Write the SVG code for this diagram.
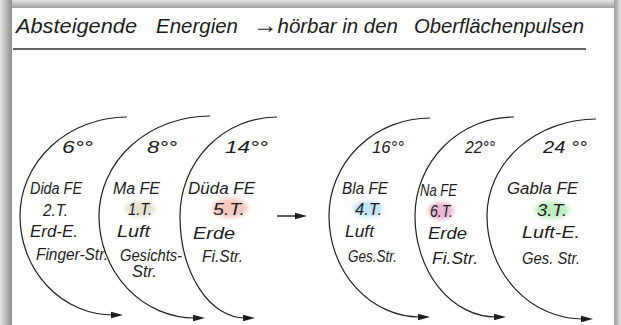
<svg xmlns="http://www.w3.org/2000/svg" width="621" height="325" viewBox="0 0 621 325">
<defs>
<linearGradient id="gl" x1="0" y1="0" x2="1" y2="0"><stop offset="0" stop-color="#e4e4e4"/><stop offset="1" stop-color="#8e8e8e"/></linearGradient>
<linearGradient id="gr" x1="0" y1="0" x2="1" y2="0"><stop offset="0" stop-color="#9a9a9a"/><stop offset="1" stop-color="#e4e4e4"/></linearGradient>
<linearGradient id="gt" x1="0" y1="0" x2="0" y2="1"><stop offset="0" stop-color="#e4e4e4"/><stop offset="1" stop-color="#a0a0a0"/></linearGradient>
<filter id="soft" x="-50%" y="-50%" width="200%" height="200%"><feGaussianBlur stdDeviation="2"/></filter>
<marker id="ah" markerUnits="userSpaceOnUse" markerWidth="14" markerHeight="8" refX="2" refY="4" orient="auto"><path d="M0,0.8 L12,4 L0,7.2 z" fill="#1e1e1e"/></marker>
<style>
.t{font-family:"Liberation Sans","DejaVu Sans",sans-serif;font-style:italic;fill:#1c1c1c;font-size:16px}
.tm{font-size:17px}
.h{font-size:20px}
.arc{fill:none;stroke:#222;stroke-width:1.2;marker-end:url(#ah)}
.hl{filter:url(#soft);opacity:0.75}
</style>
</defs>
<rect x="0" y="0" width="621" height="325" fill="#d6d6d6"/>
<rect x="0" y="0" width="621" height="8" fill="url(#gt)"/>
<rect x="0" y="0" width="12" height="325" fill="url(#gl)"/>
<rect x="614" y="0" width="7" height="325" fill="url(#gr)"/>
<rect x="12" y="8" width="602" height="317" fill="#ffffff"/>

<g id="title">
<text class="t h" x="16" y="33" textLength="121" lengthAdjust="spacingAndGlyphs">Absteigende</text>
<text class="t h" x="156" y="33" textLength="82" lengthAdjust="spacingAndGlyphs">Energien</text>
<text class="t h" x="253" y="33" textLength="145" lengthAdjust="spacingAndGlyphs"><tspan font-size="24">→</tspan>hörbar in den</text>
<text class="t h" x="414" y="33" textLength="170" lengthAdjust="spacingAndGlyphs">Oberflächenpulsen</text>
<line x1="13" y1="49" x2="586" y2="49" stroke="#333" stroke-width="1.5"/>
</g>

<g id="node-6">
<path class="arc" d="M127,117 A107,99 0 0 0 20,216 A93,99 0 0 0 113,315"/>
<text class="t tm" x="62" y="153" textLength="31" lengthAdjust="spacingAndGlyphs">6°°</text>
<text class="t" x="30" y="194" textLength="52" lengthAdjust="spacingAndGlyphs">Dida FE</text>
<text class="t" x="43" y="216" textLength="25" lengthAdjust="spacingAndGlyphs">2.T.</text>
<text class="t" x="30" y="237" textLength="48" lengthAdjust="spacingAndGlyphs">Erd-E.</text>
<text class="t" x="36" y="260" textLength="72" lengthAdjust="spacingAndGlyphs">Finger-Str.</text>
</g>

<g id="node-8">
<path class="arc" d="M210,116 A111,100 0 0 0 99,216 A96,102 0 0 0 195,318"/>
<ellipse class="hl" cx="140" cy="209" rx="15" ry="8" fill="#ddd5bd"/>
<text class="t tm" x="147" y="153" textLength="30" lengthAdjust="spacingAndGlyphs">8°°</text>
<text class="t" x="113" y="194" textLength="47" lengthAdjust="spacingAndGlyphs">Ma FE</text>
<text class="t" x="128" y="215" textLength="24" lengthAdjust="spacingAndGlyphs">1.T.</text>
<text class="t" x="117" y="237" textLength="33" lengthAdjust="spacingAndGlyphs">Luft</text>
<text class="t" x="120" y="261" textLength="62" lengthAdjust="spacingAndGlyphs">Gesichts-</text>
<text class="t" x="132" y="277" textLength="25" lengthAdjust="spacingAndGlyphs">Str.</text>
</g>

<g id="node-14">
<path class="arc" d="M277,117 A97,99 0 0 0 180,216 A65,102 0 0 0 245,318"/>
<ellipse class="hl" cx="230" cy="208" rx="18" ry="10" fill="#f3b8a8"/>
<text class="t tm" x="225" y="153" textLength="43" lengthAdjust="spacingAndGlyphs">14°°</text>
<text class="t" x="188" y="194" textLength="67" lengthAdjust="spacingAndGlyphs">Düda FE</text>
<text class="t" x="213" y="215" textLength="32" lengthAdjust="spacingAndGlyphs">5.T.</text>
<text class="t" x="193" y="239" textLength="42" lengthAdjust="spacingAndGlyphs">Erde</text>
<text class="t" x="202" y="262" textLength="41" lengthAdjust="spacingAndGlyphs">Fi.Str.</text>
</g>

<g id="node-16">
<path class="arc" d="M430,118 A101,98 0 0 0 329,216 A91,101 0 0 0 420,317"/>
<ellipse class="hl" cx="368" cy="209" rx="15" ry="8" fill="#a8daf2"/>
<text class="t tm" x="372" y="153" textLength="32" lengthAdjust="spacingAndGlyphs">16°°</text>
<text class="t" x="342" y="194" textLength="46" lengthAdjust="spacingAndGlyphs">Bla FE</text>
<text class="t" x="355" y="215" textLength="27" lengthAdjust="spacingAndGlyphs">4.T.</text>
<text class="t" x="345" y="237" textLength="29" lengthAdjust="spacingAndGlyphs">Luft</text>
<text class="t" x="348" y="262" textLength="49" lengthAdjust="spacingAndGlyphs">Ges.Str.</text>
</g>

<g id="node-22">
<path class="arc" d="M514,117 A99,99 0 0 0 415,216 A81,101 0 0 0 496,317"/>
<ellipse class="hl" cx="441" cy="211" rx="13" ry="9" fill="#e2a0c4"/>
<text class="t tm" x="465" y="153" textLength="30" lengthAdjust="spacingAndGlyphs">22°°</text>
<text class="t" x="420" y="196" textLength="37" lengthAdjust="spacingAndGlyphs">Na FE</text>
<text class="t" x="430" y="217" textLength="23" lengthAdjust="spacingAndGlyphs">6.T.</text>
<text class="t" x="428" y="239" textLength="39" lengthAdjust="spacingAndGlyphs">Erde</text>
<text class="t" x="432" y="264" textLength="46" lengthAdjust="spacingAndGlyphs">Fi.Str.</text>
</g>

<g id="node-24">
<path class="arc" d="M596,119 A109,97 0 0 0 487,216 A96,103 0 0 0 583,319"/>
<ellipse class="hl" cx="552" cy="210" rx="17" ry="9" fill="#a8e8a8"/>
<text class="t tm" x="543" y="153" textLength="44" lengthAdjust="spacingAndGlyphs">24 °°</text>
<text class="t" x="507" y="194" textLength="71" lengthAdjust="spacingAndGlyphs">Gabla FE</text>
<text class="t" x="537" y="216" textLength="30" lengthAdjust="spacingAndGlyphs">3.T.</text>
<text class="t" x="522" y="238" textLength="58" lengthAdjust="spacingAndGlyphs">Luft-E.</text>
<text class="t" x="522" y="264" textLength="58" lengthAdjust="spacingAndGlyphs">Ges. Str.</text>
</g>

<g id="connectors">
<line x1="277" y1="216" x2="297" y2="216" stroke="#222" stroke-width="1.4" marker-end="url(#ah)"/>
</g>
</svg>
